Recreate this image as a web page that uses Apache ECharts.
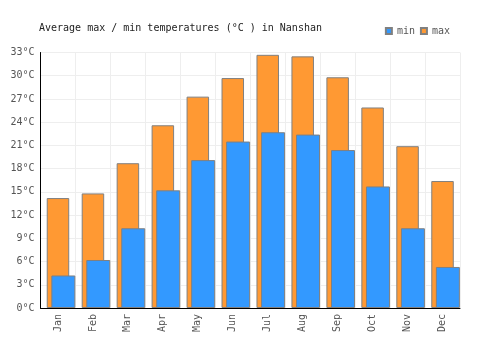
<!DOCTYPE html>
<html>
<head>
<meta charset="utf-8">
<script src="https://cdn.jsdelivr.net/npm/echarts@6/dist/echarts.min.js"></script>
<style>
  html, body { margin: 0; padding: 0; background: #fff; }
  #chart { width: 500px; height: 350px; }
</style>
</head>
<body>
<div id="chart"></div>
<script>
const months = ["Jan", "Feb", "Mar", "Apr", "May", "Jun", "Jul", "Aug", "Sep", "Oct", "Nov", "Dec"];
const maxTemps = [14.2, 14.8, 18.7, 23.6, 27.3, 29.7, 32.7, 32.5, 29.8, 25.9, 20.9, 16.4];
const minTemps = [4.2, 6.2, 10.3, 15.2, 19.1, 21.5, 22.7, 22.4, 20.4, 15.7, 10.3, 5.3];

const font = "DejaVu Sans Mono";
const barBorder = "#808080";

const chart = echarts.init(document.getElementById("chart"));

chart.setOption({
  animation: false,
  title: {
    text: "Average max / min temperatures (°C ) in Nanshan",
    left: 34,
    top: 18,
    textStyle: { fontFamily: font, fontSize: 10, fontWeight: "normal", color: "#222" },
  },
  legend: {
    data: ["min", "max"],
    right: 45,
    top: 21,
    itemWidth: 6,
    itemHeight: 6,
    itemGap: 5,
    icon: "rect",
    textStyle: { fontFamily: font, fontSize: 10, color: "#555" },
  },
  grid: { left: 40.5, right: 40, top: 52.5, bottom: 42 },
  xAxis: [
    {
      type: "category",
      data: months,
      axisLine: { lineStyle: { color: "#000", width: 1 } },
      axisTick: { show: false },
      axisLabel: { rotate: 90, margin: 6, fontFamily: font, fontSize: 10, color: "#555" },
      splitLine: { show: true, lineStyle: { color: "#eee" } },
    },
    {
      // hidden twin axis so the min bars can sit off-centre
      type: "category",
      data: months,
      show: false,
    },
  ],
  yAxis: {
    type: "value",
    min: 0,
    max: 33,
    interval: 3,
    axisLine: { show: true, lineStyle: { color: "#000", width: 1 } },
    axisTick: { show: false },
    axisLabel: { formatter: "{value}°C", margin: 6, fontFamily: font, fontSize: 10, color: "#555" },
    splitLine: { lineStyle: { color: "#eee" } },
  },
  series: [
    {
      name: "max",
      type: "bar",
      xAxisIndex: 0,
      data: maxTemps,
      barWidth: 22.5,
      itemStyle: { color: "#ff9933", borderColor: barBorder, borderWidth: 1 },
    },
    {
      name: "spacer",
      type: "bar",
      xAxisIndex: 1,
      data: [],
      barWidth: 10.7,
      barGap: 0,
    },
    {
      name: "min",
      type: "bar",
      xAxisIndex: 1,
      data: minTemps,
      barWidth: 24,
      barGap: 0,
      itemStyle: { color: "#3399ff", borderColor: barBorder, borderWidth: 1 },
    },
  ],
});
</script>
</body>
</html>
